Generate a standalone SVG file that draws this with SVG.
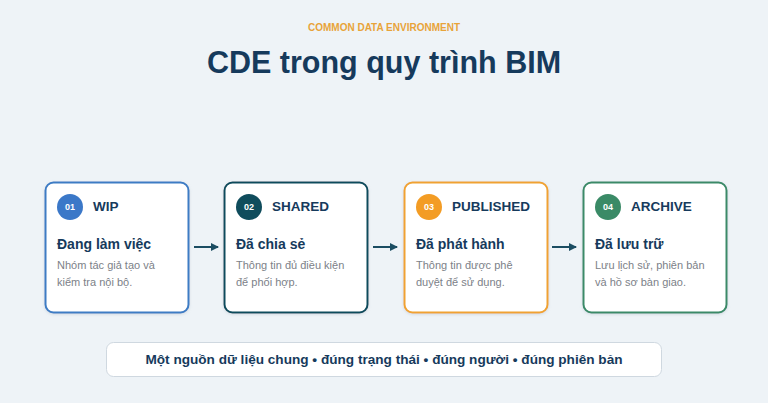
<svg xmlns="http://www.w3.org/2000/svg" width="768" height="403" viewBox="0 0 768 403">
<defs>
<marker id="ah" markerWidth="8" markerHeight="8" refX="7" refY="4" orient="auto" markerUnits="userSpaceOnUse"><path d="M0,0 L8,4 L0,8 Z" fill="#1b4d62"/></marker>
<filter id="sh" x="-10%" y="-10%" width="120%" height="130%"><feDropShadow dx="0" dy="1" stdDeviation="1.5" flood-color="#9aaabb" flood-opacity="0.35"/></filter>
</defs>
<style>
text{font-family:"Liberation Sans",Arial,sans-serif}
.card{fill:#ffffff;stroke-width:2}
.num{fill:#ffffff;font-size:9px;font-weight:bold;text-anchor:middle}
.tag{fill:#163a5c;font-size:13.5px;font-weight:bold}
.head{fill:#163a5c;font-size:14px;font-weight:bold}
.desc{fill:#7c8188;font-size:11px}
.conn{stroke:#1b4d62;stroke-width:2;fill:none}
</style>
<rect width="768" height="403" fill="#eef3f7"/>
<text x="384" y="31" text-anchor="middle" font-size="10" font-weight="bold" fill="#e8a33a">COMMON DATA ENVIRONMENT</text>
<text x="384" y="73" text-anchor="middle" font-size="30.5" font-weight="bold" fill="#163a5c">CDE trong quy trình BIM</text>
<g id="node-wip">
<rect class="card" x="45.5" y="182.5" width="143" height="130" rx="8" stroke="#3d7bc4" filter="url(#sh)"/>
<circle cx="70" cy="207" r="13" fill="#3b78c8"/>
<text class="num" x="70" y="210.3">01</text>
<text class="tag" x="93" y="210.5">WIP</text>
<text class="head" x="57" y="248.5">Đang làm việc</text>
<text class="desc" x="57" y="269">Nhóm tác giả tạo và</text>
<text class="desc" x="57" y="285.5">kiểm tra nội bộ.</text>
</g>
<g id="node-shared">
<rect class="card" x="224.5" y="182.5" width="143" height="130" rx="8" stroke="#0f4b5c" filter="url(#sh)"/>
<circle cx="249" cy="207" r="13" fill="#0f4c5c"/>
<text class="num" x="249" y="210.3">02</text>
<text class="tag" x="272" y="210.5">SHARED</text>
<text class="head" x="236" y="248.5">Đã chia sẻ</text>
<text class="desc" x="236" y="269">Thông tin đủ điều kiện</text>
<text class="desc" x="236" y="285.5">để phối hợp.</text>
</g>
<g id="node-published">
<rect class="card" x="404.5" y="182.5" width="143" height="130" rx="8" stroke="#f0a232" filter="url(#sh)"/>
<circle cx="429" cy="207" r="13" fill="#f39c24"/>
<text class="num" x="429" y="210.3">03</text>
<text class="tag" x="452" y="210.5">PUBLISHED</text>
<text class="head" x="416" y="248.5">Đã phát hành</text>
<text class="desc" x="416" y="269">Thông tin được phê</text>
<text class="desc" x="416" y="285.5">duyệt để sử dụng.</text>
</g>
<g id="node-archive">
<rect class="card" x="583.5" y="182.5" width="143" height="130" rx="8" stroke="#3a8a68" filter="url(#sh)"/>
<circle cx="608" cy="207" r="13" fill="#3a8a66"/>
<text class="num" x="608" y="210.3">04</text>
<text class="tag" x="631" y="210.5">ARCHIVE</text>
<text class="head" x="595" y="248.5">Đã lưu trữ</text>
<text class="desc" x="595" y="269">Lưu lịch sử, phiên bản</text>
<text class="desc" x="595" y="285.5">và hồ sơ bàn giao.</text>
</g>
<g id="connectors">
<line class="conn" x1="194" y1="247" x2="218" y2="247" marker-end="url(#ah)"/>
<line class="conn" x1="373" y1="247" x2="397" y2="247" marker-end="url(#ah)"/>
<line class="conn" x1="552" y1="247" x2="576" y2="247" marker-end="url(#ah)"/>
</g>
<g id="footer">
<rect x="106.5" y="342.5" width="555" height="34" rx="7" fill="#ffffff" stroke="#cfd8e0" stroke-width="1"/>
<text x="384" y="363.5" text-anchor="middle" font-size="13.6" font-weight="bold" fill="#163a5c">Một nguồn dữ liệu chung • đúng trạng thái • đúng người • đúng phiên bản</text>
</g>
</svg>
